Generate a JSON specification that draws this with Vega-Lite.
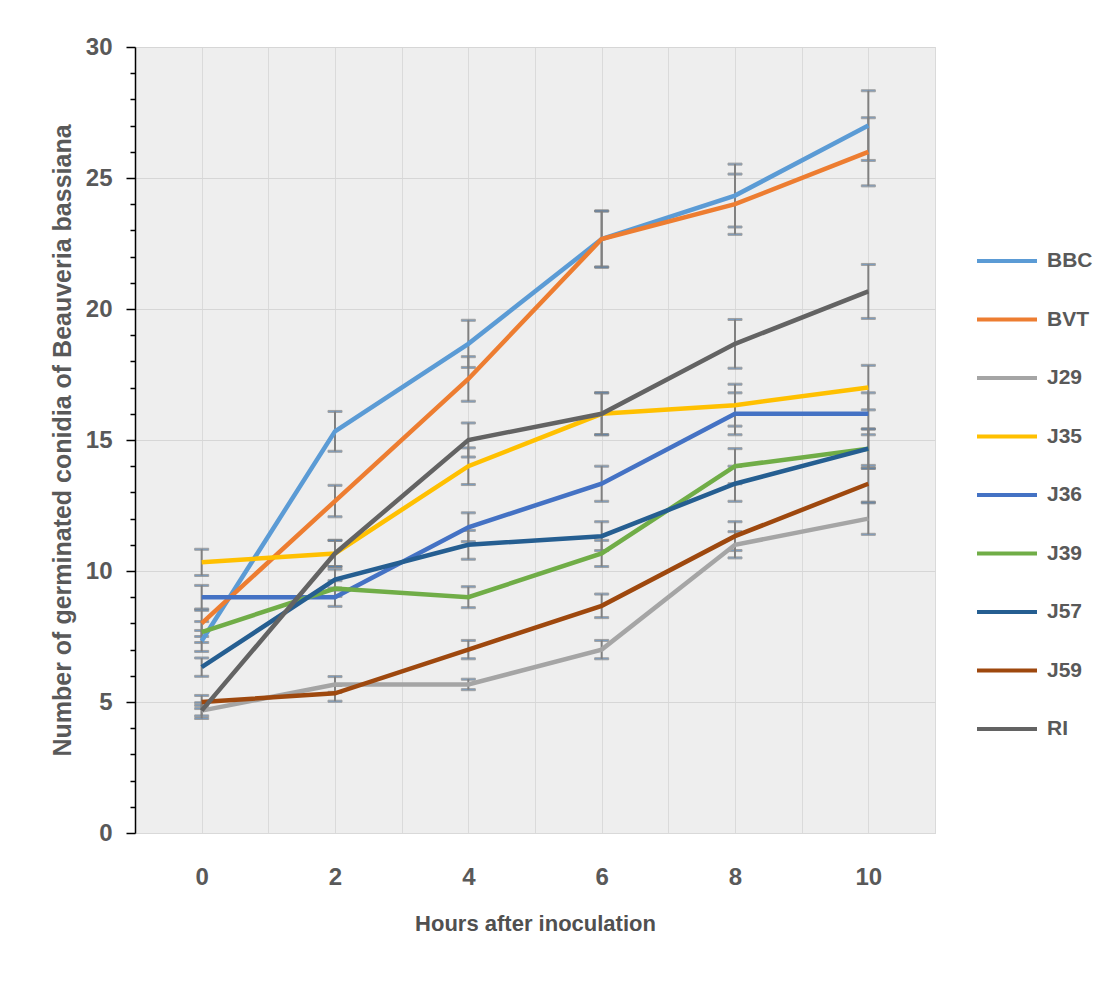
{
  "$schema": "https://vega.github.io/schema/vega-lite/v6.json",
  "width": 800,
  "height": 786,
  "autosize": "none",
  "padding": {"left": 135, "top": 47, "right": 174, "bottom": 149},
  "background": "white",
  "config": {
    "view": {"fill": "#eeeeee", "stroke": "#d9d9d9"},
    "font": "Liberation Sans"
  },
  "data": {
    "values": [
      {"strain": "BBC", "hour": 0, "count": 7.33, "err": 0.4},
      {"strain": "BBC", "hour": 2, "count": 15.33, "err": 0.76},
      {"strain": "BBC", "hour": 4, "count": 18.67, "err": 0.9},
      {"strain": "BBC", "hour": 6, "count": 22.67, "err": 1.07},
      {"strain": "BBC", "hour": 8, "count": 24.33, "err": 1.2},
      {"strain": "BBC", "hour": 10, "count": 27.0, "err": 1.33},
      {"strain": "BVT", "hour": 0, "count": 8.0, "err": 0.5},
      {"strain": "BVT", "hour": 2, "count": 12.67, "err": 0.6},
      {"strain": "BVT", "hour": 4, "count": 17.33, "err": 0.85},
      {"strain": "BVT", "hour": 6, "count": 22.67, "err": 1.07},
      {"strain": "BVT", "hour": 8, "count": 24.0, "err": 1.15},
      {"strain": "BVT", "hour": 10, "count": 26.0, "err": 1.3},
      {"strain": "J29", "hour": 0, "count": 4.67, "err": 0.2},
      {"strain": "J29", "hour": 2, "count": 5.67, "err": 0.3},
      {"strain": "J29", "hour": 4, "count": 5.67, "err": 0.2},
      {"strain": "J29", "hour": 6, "count": 7.0, "err": 0.35},
      {"strain": "J29", "hour": 8, "count": 11.0, "err": 0.5},
      {"strain": "J29", "hour": 10, "count": 12.0, "err": 0.6},
      {"strain": "J35", "hour": 0, "count": 10.33, "err": 0.5},
      {"strain": "J35", "hour": 2, "count": 10.67, "err": 0.5},
      {"strain": "J35", "hour": 4, "count": 14.0, "err": 0.7},
      {"strain": "J35", "hour": 6, "count": 16.0, "err": 0.8},
      {"strain": "J35", "hour": 8, "count": 16.33, "err": 0.8},
      {"strain": "J35", "hour": 10, "count": 17.0, "err": 0.85},
      {"strain": "J36", "hour": 0, "count": 9.0, "err": 0.45},
      {"strain": "J36", "hour": 2, "count": 9.0, "err": 0.35},
      {"strain": "J36", "hour": 4, "count": 11.67, "err": 0.55},
      {"strain": "J36", "hour": 6, "count": 13.33, "err": 0.67},
      {"strain": "J36", "hour": 8, "count": 16.0, "err": 0.8},
      {"strain": "J36", "hour": 10, "count": 16.0, "err": 0.8},
      {"strain": "J39", "hour": 0, "count": 7.67, "err": 0.4},
      {"strain": "J39", "hour": 2, "count": 9.33, "err": 0.3},
      {"strain": "J39", "hour": 4, "count": 9.0, "err": 0.4},
      {"strain": "J39", "hour": 6, "count": 10.67, "err": 0.5},
      {"strain": "J39", "hour": 8, "count": 14.0, "err": 0.67},
      {"strain": "J39", "hour": 10, "count": 14.67, "err": 0.75},
      {"strain": "J57", "hour": 0, "count": 6.33, "err": 0.35},
      {"strain": "J57", "hour": 2, "count": 9.67, "err": 0.4},
      {"strain": "J57", "hour": 4, "count": 11.0, "err": 0.55},
      {"strain": "J57", "hour": 6, "count": 11.33, "err": 0.55},
      {"strain": "J57", "hour": 8, "count": 13.33, "err": 0.67},
      {"strain": "J57", "hour": 10, "count": 14.67, "err": 0.75},
      {"strain": "J59", "hour": 0, "count": 5.0, "err": 0.25},
      {"strain": "J59", "hour": 2, "count": 5.33, "err": 0.3},
      {"strain": "J59", "hour": 4, "count": 7.0, "err": 0.35},
      {"strain": "J59", "hour": 6, "count": 8.67, "err": 0.45},
      {"strain": "J59", "hour": 8, "count": 11.33, "err": 0.55},
      {"strain": "J59", "hour": 10, "count": 13.33, "err": 0.7},
      {"strain": "RI", "hour": 0, "count": 4.67, "err": 0.3},
      {"strain": "RI", "hour": 2, "count": 10.67, "err": 0.5},
      {"strain": "RI", "hour": 4, "count": 15.0, "err": 0.65},
      {"strain": "RI", "hour": 6, "count": 16.0, "err": 0.8},
      {"strain": "RI", "hour": 8, "count": 18.67, "err": 0.93},
      {"strain": "RI", "hour": 10, "count": 20.67, "err": 1.03}
    ]
  },
  "encoding": {
    "x": {
      "field": "hour",
      "type": "quantitative",
      "scale": {"domain": [-1, 11], "nice": false, "zero": false},
      "axis": {
        "values": [-1, 0, 1, 2, 3, 4, 5, 6, 7, 8, 9, 10, 11],
        "labelExpr": "datum.value >= 0 && datum.value <= 10 && datum.value % 2 === 0 ? datum.label : ''",
        "ticks": false,
        "domainColor": "#d9d9d9",
        "grid": true,
        "gridColor": "#dadada",
        "labelFontSize": 24,
        "labelFontWeight": "bold",
        "labelColor": "#595959",
        "labelPadding": 32,
        "title": "Hours after inoculation",
        "titleFontSize": 22,
        "titleFontWeight": "bold",
        "titleColor": "#505050",
        "titlePadding": 24
      }
    },
    "y": {
      "field": "count",
      "type": "quantitative",
      "scale": {"domain": [0, 30], "nice": false},
      "axis": {
        "values": [0, 1, 2, 3, 4, 5, 6, 7, 8, 9, 10, 11, 12, 13, 14, 15, 16, 17, 18, 19, 20, 21, 22, 23, 24, 25, 26, 27, 28, 29, 30],
        "labelExpr": "datum.value % 5 === 0 ? datum.label : ''",
        "tickSize": {"condition": {"test": "datum.value % 5 === 0", "value": 9}, "value": 5},
        "tickColor": "black",
        "tickWidth": 1.5,
        "domainColor": "black",
        "domainWidth": 1.5,
        "grid": true,
        "gridColor": "#d6d6d6",
        "gridOpacity": {"condition": {"test": "datum.value % 5 === 0", "value": 1}, "value": 0},
        "labelFontSize": 24,
        "labelFontWeight": "bold",
        "labelColor": "#595959",
        "labelPadding": 14,
        "title": "Number of germinated conidia of Beauveria bassiana",
        "titleFontSize": 25,
        "titleFontWeight": "bold",
        "titleColor": "#595959",
        "titlePadding": 10
      }
    }
  },
  "layer": [
    {
      "mark": {
        "type": "errorbar",
        "rule": {"stroke": "#808080", "strokeWidth": 2},
        "ticks": {"stroke": "#808080", "size": 14, "thickness": 2}
      },
      "encoding": {
        "yError": {"field": "err"},
        "detail": {"field": "strain"}
      }
    },
    {
      "mark": {"type": "line", "strokeWidth": 4.5},
      "encoding": {
        "color": {
          "field": "strain",
          "type": "nominal",
          "scale": {
            "domain": ["BBC", "BVT", "J29", "J35", "J36", "J39", "J57", "J59", "RI"],
            "range": ["#5B9BD5", "#ED7D31", "#A5A5A5", "#FFC000", "#4472C4", "#70AD47", "#255E91", "#9E480E", "#636363"]
          },
          "legend": {
            "title": null,
            "orient": "none",
            "legendX": 840,
            "legendY": 182,
            "symbolType": "stroke",
            "symbolSize": 3600,
            "symbolStrokeWidth": 4,
            "labelFontSize": 21,
            "labelFontWeight": "bold",
            "labelColor": "#595959",
            "labelOffset": 8,
            "rowPadding": 16.5
          }
        }
      }
    }
  ]
}
